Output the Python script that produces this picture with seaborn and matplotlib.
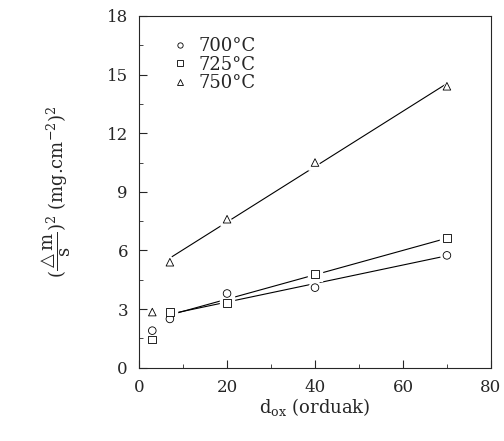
import numpy as np
import pandas as pd
import matplotlib
matplotlib.use("Agg")
import matplotlib.pyplot as plt
from matplotlib.ticker import MultipleLocator
import seaborn as sns

# values
d_ox = [3, 7, 20, 40, 70]
w700 = [1.9, 2.5, 3.8, 4.1, 5.75]
w725 = [1.45, 2.85, 3.3, 4.8, 6.65]
w750 = [2.85, 5.4, 7.6, 10.5, 14.4]
temps = ["700°C", "725°C", "750°C"]
markers = {"700°C": "o", "725°C": "s", "750°C": "^"}

rows = []
for t, vals in zip(temps, [w700, w725, w750]):
    for x, y in zip(d_ox, vals):
        rows.append({"d_ox": x, "w2": y, "temp": t})
df = pd.DataFrame(rows)

sns.set_style("ticks")
plt.rcParams["font.family"] = ["DejaVu Serif"]
plt.rcParams["mathtext.fontset"] = "dejavuserif"

fig = plt.figure(figsize=(5.04, 4.41), dpi=100)
ax = fig.add_axes([0.276, 0.166, 0.698, 0.798])

# fitted lines (first point left out of the fit)
for t in temps:
    sub = df[(df.temp == t) & (df.d_ox >= 7)]
    sns.regplot(data=sub, x="d_ox", y="w2", ax=ax, scatter=False, ci=None,
                truncate=True, color="black", line_kws={"lw": 0.8})

# white halo so the lines stop short of the symbols
for t in temps:
    sub = df[df.temp == t]
    ax.scatter(sub.d_ox, sub.w2, s=90, marker=markers[t], color="white", zorder=3)

sns.scatterplot(data=df, x="d_ox", y="w2", style="temp", markers=markers,
                color="white", edgecolor="black", linewidth=0.6, s=30,
                ax=ax, zorder=4, legend=True)

leg = ax.legend(loc="upper left", frameon=False, fontsize=13,
                bbox_to_anchor=(0.03, 0.985), handletextpad=0.2, labelspacing=0.02,
                markerscale=0.7, handlelength=1.6)

ax.set_xlim(0, 80)
ax.set_ylim(0, 18)
ax.xaxis.set_major_locator(MultipleLocator(20))
ax.xaxis.set_minor_locator(MultipleLocator(10))
ax.yaxis.set_major_locator(MultipleLocator(3))
ax.yaxis.set_minor_locator(MultipleLocator(1.5))
ax.tick_params(which="major", direction="in", length=6, width=0.8, labelsize=12, pad=8)
ax.tick_params(which="minor", direction="in", length=3, width=0.6)
for s in ax.spines.values():
    s.set_linewidth(0.8)

ax.set_xlabel(r"d$_{\mathrm{ox}}$ (orduak)", fontsize=13, labelpad=0)
ax.set_ylabel(r"$(\dfrac{\triangle\mathrm{m}}{\mathrm{s}})^2$ (mg.cm$^{-2}$)$^2$",
              fontsize=13, labelpad=24)

fig.savefig("out.png", dpi=100)
